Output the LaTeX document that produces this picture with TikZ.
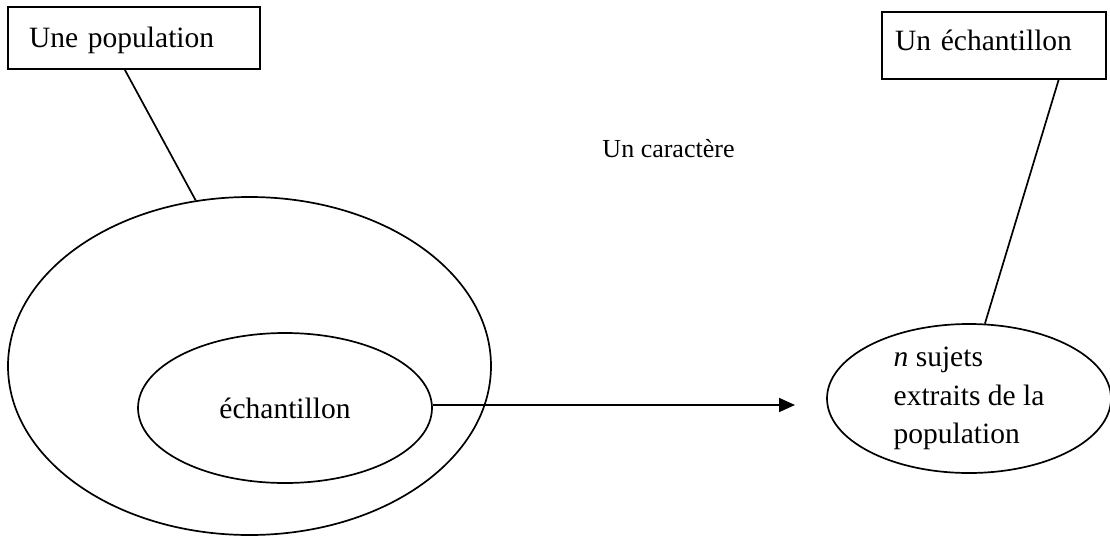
\documentclass[tikz,border=0pt]{standalone}
\usepackage{fontspec}
\setmainfont{Liberation Serif}
\usetikzlibrary{arrows.meta,shapes.geometric}

\begin{document}
\begin{tikzpicture}[x=1pt, y=-1pt, line width=1.7pt, >={Triangle[length=16pt, width=14pt]}, font=\fontsize{29.5}{38.5}\selectfont]
\tikzset{boxnode/.style={draw, rectangle, align=left, inner ysep=0pt}}
\tikzset{ovalnode/.style={draw, ellipse, inner sep=0pt, align=left}}
\useasboundingbox (0,0) rectangle (1110,536);
\node[boxnode, text width=210pt, inner xsep=21pt, text height=40pt, text depth=22pt] (popbox) at (134,38) {Une population};
\node[boxnode, text width=198pt, inner xsep=13pt, text height=38pt, text depth=29pt] (echbox) at (994,45.5) {Un échantillon};
\node[font=\fontsize{26}{30}\selectfont, anchor=base] (trait) at (668.5,157) {Un caractère};
\node[ovalnode, minimum width=483pt, minimum height=338pt] (pop) at (249.5,366) {};
\node[ovalnode, minimum width=294pt, minimum height=150pt] (inner) at (285,408) {échantillon};
\node[ovalnode, minimum width=284pt, minimum height=149pt] (sujets) at (969,398.5) {\textit{n} sujets\\extraits de la\\population};
\coordinate (tip) at (795,405);
\draw (popbox.-106) -- (pop.108.6);
\draw (echbox.-28) -- (sujets.78);
\draw[->] (inner.east |- tip) -- (tip);
\end{tikzpicture}
\end{document}
